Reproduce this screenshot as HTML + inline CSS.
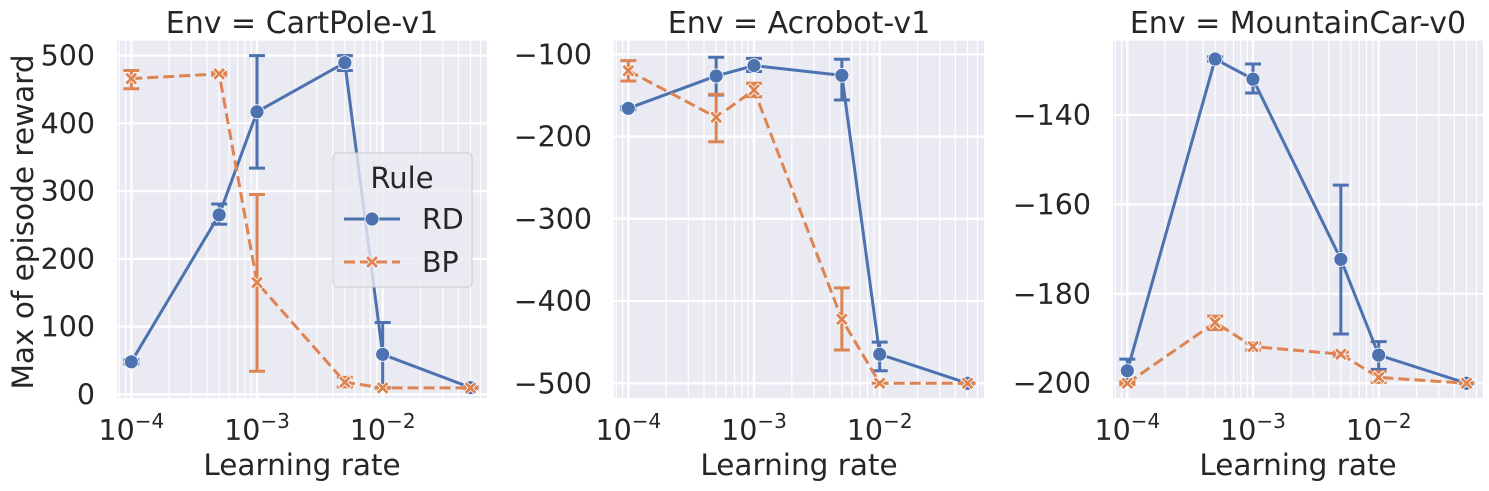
<!DOCTYPE html>
<html><head><meta charset="utf-8"><style>
html,body{margin:0;padding:0;background:#fff;}
svg{display:block;font-family:"DejaVu Sans","Liberation Sans",sans-serif;}
</style></head><body>
<svg id="chart" width="1489" height="491" viewBox="0 0 1489 491" xmlns="http://www.w3.org/2000/svg"></svg>
<script>
const lrs = [1e-4, 5e-4, 1e-3, 5e-3, 1e-2, 5e-2];
const panelTitles = ["Env = CartPole-v1", "Env = Acrobot-v1", "Env = MountainCar-v0"];
const cartRD = [48, 265, 417, 489.5, 59, 10];
const cartRDLo = [45, 251, 334, 478, 10, 9];
const cartRDHi = [51, 281, 500, 500, 106, 11];
const cartBP = [466, 473, 165, 18, 9.5, 9.5];
const cartBPLo = [451, 471, 34, 11, 9, 9];
const cartBPHi = [478, 475, 295, 25, 10, 10];
const acroRD = [-165.7, -126.4, -113.8, -125.6, -464.7, -500];
const acroRDLo = [-167.5, -149.5, -121, -155.6, -484.7, -500];
const acroRDHi = [-163.5, -103.6, -105, -106, -450, -500];
const acroBP = [-120, -176.6, -143.4, -422.2, -500, -500];
const acroBPLo = [-132.5, -206.3, -151.5, -459.5, -500, -500];
const acroBPHi = [-107.8, -148.6, -135.3, -384, -500, -500];
const mcRD = [-197.2, -127.5, -132.0, -172.3, -193.7, -200];
const mcRDLo = [-200, -128, -135.1, -189, -196.9, -200];
const mcRDHi = [-194.6, -127, -128.6, -155.7, -190.7, -200];
const mcBP = [-200, -186.4, -191.8, -193.5, -198.7, -200];
const mcBPLo = [-200.3, -188, -192.6, -194, -199.8, -200];
const mcBPHi = [-199.7, -185, -191, -193, -197.4, -200];
const cartTicks = [0, 100, 200, 300, 400, 500];
const acroTicks = [-500, -400, -300, -200, -100];
const mcTicks = [-200, -180, -160, -140];
const xTickExps = [-4, -3, -2];

const NS = "http://www.w3.org/2000/svg";
const svg = document.getElementById("chart");
function mk(tag, attrs, parent) {
  const e = document.createElementNS(NS, tag);
  for (const k in attrs) e.setAttribute(k, attrs[k]);
  (parent || svg).appendChild(e);
  return e;
}
const BLUE = "#4c72b0", ORANGE = "#dd8452";
const TOP = 40.7, BOT = 398, W = 370;
const LX0 = -4.114, LX1 = -1.170;
const FS = 28.5;

const panels = [
  {left: 117, dom: [-5.4, 522], ticks: cartTicks, rd: [cartRD, cartRDLo, cartRDHi], bp: [cartBP, cartBPLo, cartBPHi], name: "cartpole"},
  {left: 614, dom: [-517.9, -83.5], ticks: acroTicks, rd: [acroRD, acroRDLo, acroRDHi], bp: [acroBP, acroBPLo, acroBPHi], name: "acrobot"},
  {left: 1113, dom: [-203.3, -123.4], ticks: mcTicks, rd: [mcRD, mcRDLo, mcRDHi], bp: [mcBP, mcBPLo, mcBPHi], name: "mountaincar"}
];

function xMark(g, x, y, color) {
  const s = 6.5, t = 2.6;
  const d = `M${x-s},${y-s+t} L${x-s+t},${y-s} L${x},${y-t} L${x+s-t},${y-s} L${x+s},${y-s+t} L${x+t},${y} L${x+s},${y+s-t} L${x+s-t},${y+s} L${x},${y+t} L${x-s+t},${y+s} L${x-s},${y+s-t} L${x-t},${y} Z`;
  return mk("path", {d: d, fill: color, stroke: "#fff", "stroke-width": 0.8}, g);
}

panels.forEach((p, pi) => {
  const g = mk("g", {});
  
  
  const xs = v => p.left + (Math.log10(v) - LX0) / (LX1 - LX0) * W;
  const ys = v => BOT - (v - p.dom[0]) / (p.dom[1] - p.dom[0]) * (BOT - TOP);
  const bg = mk("rect", {x: p.left, y: TOP, width: W, height: BOT - TOP, fill: "#eaeaf2"}, g);
  
  
  for (let e = -5; e <= -1; e++) for (let m = 2; m <= 9; m++) {
    const v = m * Math.pow(10, e);
    const lv = Math.log10(v);
    if (lv < LX0 || lv > LX1) continue;
    const x = xs(v);
    mk("line", {x1: x, x2: x, y1: TOP, y2: BOT, stroke: "#fff", "stroke-width": 1.2}, g);
  }
  xTickExps.forEach(e => {
    const x = xs(Math.pow(10, e));
    mk("line", {x1: x, x2: x, y1: TOP, y2: BOT, stroke: "#fff", "stroke-width": 2.2}, g);
    const t = mk("text", {x: x, y: 440, "text-anchor": "middle", "font-size": FS, fill: "#262626"}, g);
    
    
    t.textContent = "10";
    const sp = mk("tspan", {dy: -12, "font-size": 20}, t);
    sp.textContent = "\u2212" + (-e);
  });
  p.ticks.forEach(v => {
    const y = ys(v);
    mk("line", {x1: p.left, x2: p.left + W, y1: y, y2: y, stroke: "#fff", "stroke-width": 2.2}, g);
    const t = mk("text", {x: p.left - 22, y: y + 10, "text-anchor": "end", "font-size": FS, fill: "#262626"}, g);
    
    
    t.textContent = v < 0 ? "\u2212" + (-v) : String(v);
  });
  const title = mk("text", {x: p.left + W / 2, y: 33, "text-anchor": "middle", "font-size": 30, fill: "#262626"}, g);
  
  
  title.textContent = panelTitles[pi];
  const xl = mk("text", {x: p.left + W / 2, y: 475, "text-anchor": "middle", "font-size": 29.5, fill: "#262626"}, g);
  
  
  xl.textContent = "Learning rate";

  [[p.rd, BLUE, "rd", null], [p.bp, ORANGE, "bp", "11,5"]].forEach(([ser, color, nm, dash]) => {
    const [vals, lo, hi] = ser;
    const pts = vals.map((v, i) => xs(lrs[i]) + "," + ys(v)).join(" ");
    const line = mk("polyline", {points: pts, fill: "none", stroke: color, "stroke-width": 3}, g);
    if (dash) line.setAttribute("stroke-dasharray", dash);
    
    
    vals.forEach((v, i) => {
      const x = xs(lrs[i]);
      const eb = mk("path", {d: `M${x},${ys(lo[i])}V${ys(hi[i])}M${x-8},${ys(lo[i])}H${x+8}M${x-8},${ys(hi[i])}H${x+8}`, stroke: color, "stroke-width": 3, fill: "none"}, g);
      
      
    });
    vals.forEach((v, i) => {
      const x = xs(lrs[i]), y = ys(v);
      let m;
      if (nm === "rd") m = mk("circle", {cx: x, cy: y, r: 7, fill: color, stroke: "#fff", "stroke-width": 0.8}, g);
      else m = xMark(g, x, y, color);
      
      
    });
  });
});

const yl = mk("text", {x: 0, y: 0, transform: "translate(33,222) rotate(-90)", "text-anchor": "middle", "font-size": 29.5, fill: "#262626"});


yl.textContent = "Max of episode reward";

const lg = mk("g", {});


mk("rect", {x: 333, y: 153, width: 139, height: 134, rx: 4, fill: "#eaeaf2", "fill-opacity": 0.8, stroke: "#cccccc", "stroke-width": 1}, lg);
const lt = mk("text", {x: 402, y: 188, "text-anchor": "middle", "font-size": 29, fill: "#262626"}, lg);


lt.textContent = "Rule";
const e1 = mk("g", {}, lg);


mk("line", {x1: 344, x2: 400, y1: 219, y2: 219, stroke: BLUE, "stroke-width": 3}, e1);
mk("circle", {cx: 372, cy: 219, r: 7, fill: BLUE, stroke: "#fff", "stroke-width": 0.8}, e1);
const t1 = mk("text", {x: 422, y: 229, "font-size": 28.5, fill: "#262626"}, e1); t1.textContent = "RD";
const e2 = mk("g", {}, lg);


mk("line", {x1: 344, x2: 400, y1: 262, y2: 262, stroke: ORANGE, "stroke-width": 3, "stroke-dasharray": "11,5"}, e2);
xMark(e2, 372, 262, ORANGE);
const t2 = mk("text", {x: 422, y: 272, "font-size": 28.5, fill: "#262626"}, e2); t2.textContent = "BP";
</script>
</body></html>
